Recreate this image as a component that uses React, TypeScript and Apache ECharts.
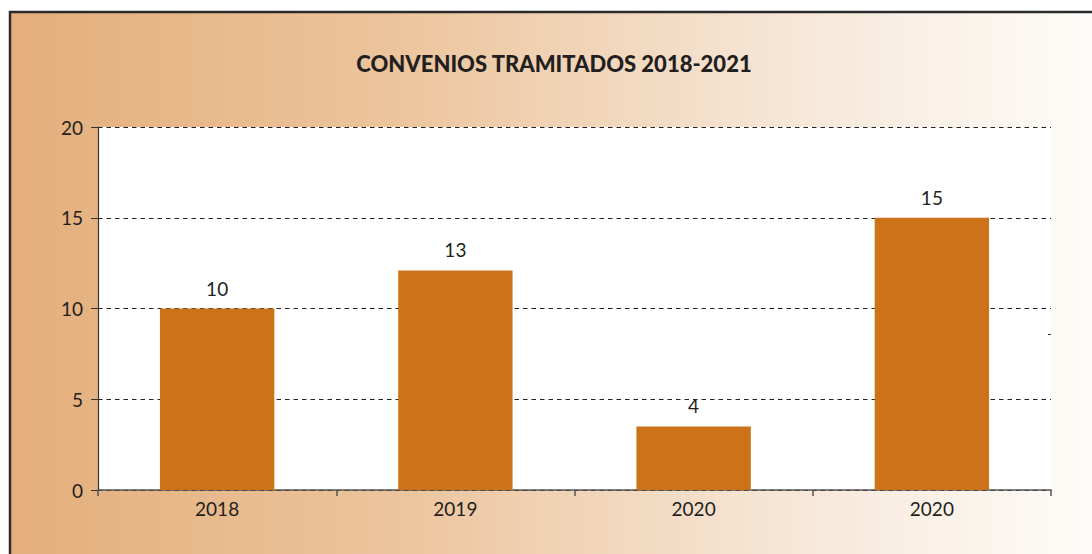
import React, { useEffect, useRef } from "react";
import * as echarts from "echarts";

const categories = ["2018", "2019", "2020", "2020"];
const values = [10, 12.1, 3.5, 15];
const valueLabels = ["10", "13", "4", "15"];
const yTicks = { min: 0, max: 20, interval: 5 };
const title = "CONVENIOS TRAMITADOS 2018-2021";

export default function App() {
  const ref = useRef<HTMLDivElement>(null);
  useEffect(() => {
    if (!ref.current) return;
    const chart = echarts.init(ref.current, null, { renderer: "svg" });
    const font = "Lato, 'Open Sans', sans-serif";
    chart.setOption({
      animation: false,
      backgroundColor: "#ffffff",
      title: {
        text: title,
        left: 549,
        textAlign: "center",
        top: 47,
        textStyle: { fontFamily: font, fontWeight: 900, fontSize: 22, color: "#231f20" },
      },
      graphic: [
        {
          type: "rect",
          z: -10,
          silent: true,
          shape: { x: 10, y: 12, width: 1100, height: 560 },
          style: {
            fill: new echarts.graphic.LinearGradient(0, 0, 1, 0, [
              { offset: 0, color: "#e4ae7c" },
              { offset: 0.35, color: "#ecc49c" },
              { offset: 0.7, color: "#f6e6d6" },
              { offset: 1, color: "#fefdfb" },
            ]),
            stroke: "#2b2b2b",
            lineWidth: 2.5,
          },
        },
        {
          type: "line",
          z: 10,
          shape: { x1: 1048, y1: 334.5, x2: 1051, y2: 334.5 },
          style: { stroke: "#333", lineWidth: 1 },
        },
      ],
      grid: {
        left: 98,
        right: 41,
        top: 127,
        bottom: 64,
        show: true,
        backgroundColor: "#ffffff",
        borderWidth: 0,
      },
      xAxis: {
        type: "category",
        data: categories,
        axisLine: { show: true, lineStyle: { color: "#555", width: 1.5 } },
        axisTick: { show: true, length: 6, lineStyle: { color: "#555", width: 1.5 } },
        axisLabel: { color: "#231f20", fontSize: 19, fontFamily: font, margin: 9 },
      },
      yAxis: {
        type: "value",
        min: yTicks.min,
        max: yTicks.max,
        interval: yTicks.interval,
        axisLine: { show: true, lineStyle: { color: "#333", width: 1.2 } },
        axisTick: { show: true, length: 7, lineStyle: { color: "#333" } },
        axisLabel: { color: "#231f20", fontSize: 19, fontFamily: font, margin: 15 },
        splitLine: { show: true, lineStyle: { color: "#222", type: [4.5, 4], width: 1.2 } },
      },
      series: [
        {
          type: "bar",
          data: values,
          barWidth: "48%",
          itemStyle: { color: "#cc7218" },
          label: {
            show: true,
            position: "top",
            distance: 11,
            color: "#231f20",
            fontSize: 19,
            fontFamily: font,
            formatter: (p: any) => valueLabels[p.dataIndex],
          },
        },
      ],
    });
    return () => chart.dispose();
  }, []);
  return (
    <div
      ref={ref}
      style={{ position: "fixed", left: 0, top: 0, width: 1092, height: 554 }}
    />
  );
}
